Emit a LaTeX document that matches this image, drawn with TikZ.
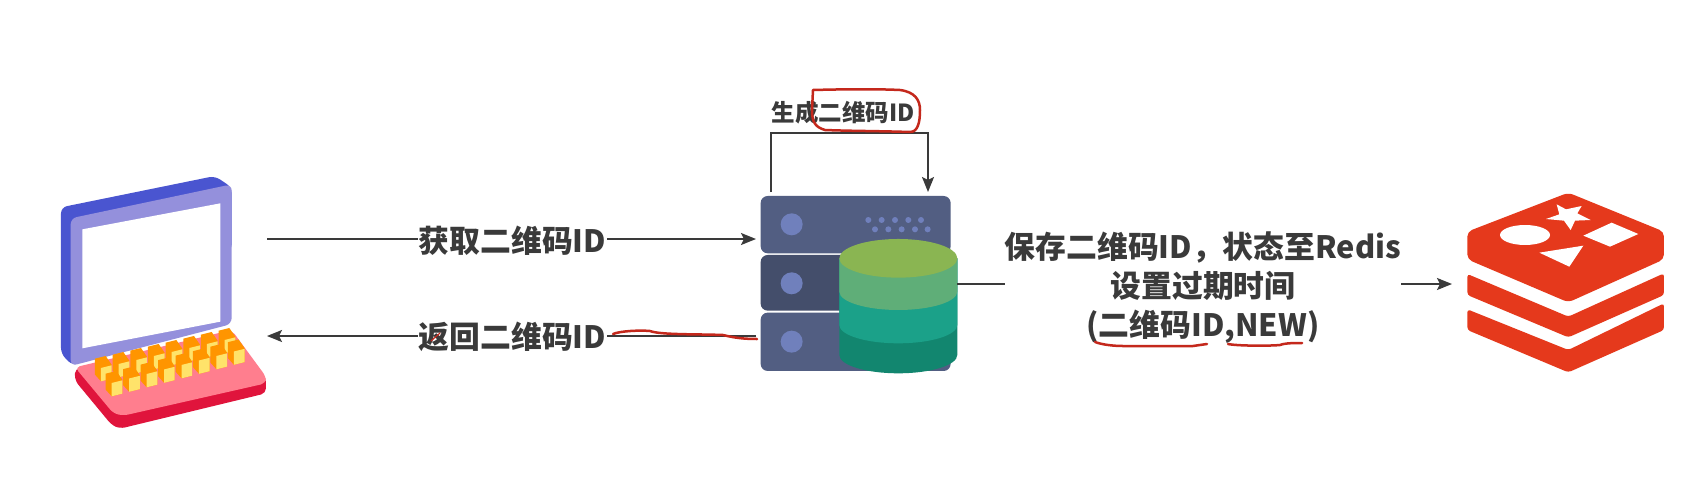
\documentclass[tikz,border=0pt]{standalone}
\usepackage{fontspec}
\setmainfont{Noto Sans CJK SC}
\usetikzlibrary{arrows.meta}
\definecolor{inkc}{HTML}{3A3A3A}
\definecolor{redpen}{HTML}{C4281C}
\definecolor{lapblue}{HTML}{4A55D0}
\definecolor{laplilac}{HTML}{9490DC}
\definecolor{lappink}{HTML}{FF7E8E}
\definecolor{lapred}{HTML}{E0143C}
\definecolor{keyorange}{HTML}{FF9500}
\definecolor{keyyellow}{HTML}{FFE36A}
\definecolor{srvlight}{HTML}{525E82}
\definecolor{srvdark}{HTML}{444E6B}
\definecolor{srvdot}{HTML}{7080BC}
\definecolor{dbone}{HTML}{8AB552}
\definecolor{dbtwo}{HTML}{5FAE78}
\definecolor{dbthree}{HTML}{1BA189}
\definecolor{dbfour}{HTML}{12866F}
\definecolor{redisc}{HTML}{E5391C}
\newcommand\lapkey[2]{%
  \fill[keyorange] (#1,{#2+42}) -- ({#1-18},{#2+22}) -- ({#1-18},{#2-26}) -- ({#1+14},{#2-34}) -- ({#1+32},{#2-8}) -- ({#1+32},{#2+34}) -- cycle;
  \fill[keyyellow] (#1,{#2+2}) -- ({#1+32},{#2-6}) -- ({#1+32},{#2+34}) -- (#1,{#2+42}) -- cycle;}
\tikzset{
  x=1pt,y=-1pt,
  arr/.style={draw=inkc,line width=1.7pt,-{Stealth[length=15pt,width=12pt,inset=3pt]}},
  plainline/.style={draw=inkc,line width=1.7pt},
  lab/.style={font=\fontsize{30.8}{39}\selectfont\bfseries,text=inkc,align=center,inner sep=1pt},
  pen/.style={draw=redpen,line width=2.5pt,line cap=round,line join=round},
  iconbox/.style={inner sep=0pt,outer sep=0pt,minimum width=#1},
  zoomed/.style={shift={#1},scale=0.3333},
}
\begin{document}
\begin{tikzpicture}
\useasboundingbox (0,0) rectangle (1706,483);
\fill[white] (0,0) rectangle (1706,483);
% extents of the three icons
\node[iconbox=206pt,minimum height=252pt] (laptop) at (164,302) {};
\node[iconbox=201pt,minimum height=181pt] (server) at (856.5,282.5) {};
\node[iconbox=212pt,minimum height=180pt] (redis) at (1558,282) {};
\coordinate (rowA) at (600,239);
\coordinate (rowB) at (600,336);
\coordinate (rowC) at (1200,284);
\coordinate (loopA) at (771,192);
\coordinate (loopB) at (928,192);
% laptop
\begin{scope}[zoomed={(30,150)}]
  \fill[lapblue,rounded corners=6pt] (93,172) -- (555,78) -- (605,112) -- (605,300) -- (130,648) -- (93,612) -- cycle;
  \fill[laplilac,rounded corners=6pt] (122,205) -- (605,103) -- (605,522) -- (122,648) -- cycle;
  \fill[white] (157,238) -- (571,160) -- (571,515) -- (157,595) -- cycle;
  \fill[lapred,rounded corners=5pt] (135,655) -- (135,692) -- (245,825) -- (270,836) -- (708,730) -- (708,680) -- cycle;
  \fill[lappink,rounded corners=5pt] (135,652) -- (605,540) -- (708,680) -- (708,700) -- (280,797) -- (250,790) -- cycle;
  \foreach \i in {0,...,7}{\pgfmathsetmacro\kx{213+\i*53}\pgfmathsetmacro\ky{652-\i*12}\lapkey{\kx}{\ky}}
  \foreach \i in {0,...,7}{\pgfmathsetmacro\kx{245+\i*52.4}\pgfmathsetmacro\ky{697-\i*13.5}\lapkey{\kx}{\ky}}
\end{scope}
% server
\begin{scope}[zoomed={(720,70)}]
  \fill[srvlight,rounded corners=7pt] (122,378) rectangle (692,550);
  \fill[srvdark,rounded corners=7pt] (122,555) rectangle (692,722);
  \fill[srvlight,rounded corners=7pt] (122,728) rectangle (692,903);
  \foreach \cy in {463,640,815} \fill[srvdot] (215,\cy) circle (33);
  \foreach \dx in {445,485,525,565,603} \fill[srvdot] (\dx,450) circle (9);
  \foreach \dx in {465,505,545,585,623} \fill[srvdot] (\dx,478) circle (9);
  \fill[dbfour] (358,565) -- (358,855) arc[start angle=180,end angle=0,x radius=177,y radius=55] -- (712,565) -- cycle;
  \fill[dbthree] (358,565) -- (358,765) arc[start angle=180,end angle=0,x radius=177,y radius=55] -- (712,565) -- cycle;
  \fill[dbtwo] (358,565) -- (358,665) arc[start angle=180,end angle=0,x radius=177,y radius=55] -- (712,565) -- cycle;
  \fill[dbone] (535,565) ellipse [x radius=177,y radius=58];
\end{scope}
% redis
\begin{scope}[zoomed={(1440,170)}]
  \fill[redisc,rounded corners=5pt] (385,68) -- (672,185) -- (672,268) -- (385,397) -- (82,268) -- (82,185) -- cycle;
  \fill[redisc,rounded corners=3pt] (82,312) -- (385,440) -- (672,310) -- (672,375) -- (385,502) -- (82,375) -- cycle;
  \fill[redisc,rounded corners=3pt] (82,418) -- (385,540) -- (672,400) -- (672,480) -- (385,607) -- (82,480) -- cycle;
  \fill[white] (350,103) -- (378,118) -- (425,108) -- (412,130) -- (452,150) -- (405,152) -- (392,180) -- (372,152) -- (318,147) -- (358,133) -- cycle;
  \fill[white] (255,195) ellipse [x radius=75,y radius=30];
  \fill[white] (515,158) -- (595,192) -- (510,230) -- (430,197) -- cycle;
  \fill[white] (298,248) -- (430,227) -- (388,290) -- cycle;
\end{scope}
% connectors
\draw[arr] (laptop.east |- rowA) -- (server.west |- rowA);
\draw[arr] (server.west |- rowB) -- (laptop.east |- rowB);
\draw[plainline] (server.east |- rowC) -- (rowC);
\draw[arr] (rowC) -- (redis.west |- rowC);
\draw[arr] (loopA) -- (771,133) -| (loopB);
% labels
\node[lab,fill=white] (getid) at (512.5,241) {获取二维码ID};
\node[lab,fill=white] (retid) at (512.5,337) {返回二维码ID};
\node[lab,fill=white,inner xsep=0pt] (save) at (1203,288) {保存二维码ID，状态至Redis\\设置过期时间\\(二维码ID,NEW)};
\node[lab,font=\fontsize{23.5}{28}\selectfont\bfseries] (gen) at (843,113) {生成二维码ID};
% red pen marks
\draw[pen] (813,90) .. controls (850,89) and (880,89) .. (900,90) .. controls (915,92) and (920,100) .. (920,110) .. controls (920,122) and (918,132) .. (910,132) .. controls (880,131) and (850,131) .. (825,130) .. controls (815,127) and (812,122) .. (812,110) -- cycle;
\draw[pen] (613,334) .. controls (620,331) and (640,330) .. (650,331) .. controls (660,335) and (700,334) .. (723,335) .. controls (735,338) and (745,339) .. (757,339);
\draw[pen,line width=1.2pt] (431,341) -- (440,333);
\draw[pen] (1095,342) .. controls (1103,345) and (1115,346) .. (1123,346) -- (1193,346) -- (1207,344);
\draw[pen] (1228,344) .. controls (1238,346) and (1270,346) .. (1280,345) .. controls (1285,343) and (1295,343) .. (1302,343);
\end{tikzpicture}
\end{document}
